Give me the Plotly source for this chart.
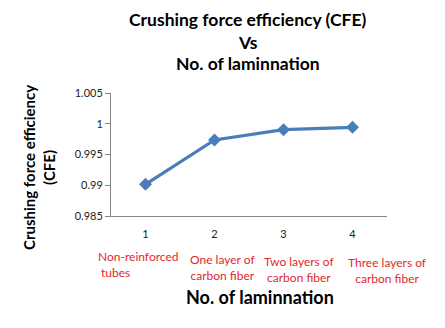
import plotly.graph_objects as go

categories = ["1", "2", "3", "4"]
cfe_values = [0.99015, 0.99736, 0.99903, 0.99942]
group_labels = ["Non-reinforced<br>&nbsp;tubes", "One layer of<br>carbon fiber",
                "Two layers of<br>carbon fiber", "Three layers of<br>carbon fiber"]
title_lines = ["Crushing force efficiency (CFE)", "Vs", "No. of laminnation"]
x_title = "No. of laminnation"
y_title = "Crushing force efficiency<br>(CFE)"
y_ticks = [0.985, 0.99, 0.995, 1.0, 1.005]
y_ticktext = ["0.985", "0.99", "0.995", "1", "1.005"]

# label placement (styling)
label_xshift = [-7, 8, 16, 35]
label_yshift = [-31, -34, -36, -37]
label_align = ["left", "center", "center", "center"]

FONT = "Lato, Open Sans, sans-serif"

L, R, T, B = 111, 58, 93, 112
W, H = 445, 328
PW, PH = W - L - R, H - T - B


def px(xp):
    return (xp - L) / PW


def py(yp):
    return (H - B - yp) / PH


fig = go.Figure()
fig.add_trace(go.Scatter(
    x=categories, y=cfe_values, mode="lines+markers",
    line=dict(color="#4A7EBB", width=3.2),
    marker=dict(symbol="diamond", size=10, color="#4A7EBB"),
    showlegend=False, cliponaxis=False,
))

for i, lab in enumerate(group_labels):
    fig.add_annotation(x=i, y=0, xref="x", yref="paper", text=lab,
                       showarrow=False, yanchor="top",
                       xshift=label_xshift[i], yshift=label_yshift[i],
                       font=dict(family=FONT, size=12, color="#E0282E"),
                       align=label_align[i])

for yc, line in zip([19, 42, 64], title_lines):
    fig.add_annotation(x=px(248), y=py(yc), xref="paper", yref="paper",
                       text=f"<b>{line}</b>", showarrow=False,
                       xanchor="center", yanchor="middle",
                       font=dict(family=FONT, size=17.5, color="black"))

fig.add_annotation(x=px(260), y=py(297), xref="paper", yref="paper",
                   text=f"<b>{x_title}</b>", showarrow=False,
                   xanchor="center", yanchor="middle",
                   font=dict(family=FONT, size=18, color="black"))

fig.add_annotation(x=px(39), y=py(168), xref="paper", yref="paper",
                   text=f"<b>{y_title}</b>", showarrow=False, textangle=-90,
                   xanchor="center", yanchor="middle",
                   font=dict(family=FONT, size=15, color="black"))

fig.update_layout(
    width=W, height=H,
    margin=dict(l=L, r=R, t=T, b=B),
    paper_bgcolor="white", plot_bgcolor="white",
    xaxis=dict(type="category", range=[-0.5, len(categories) - 0.5],
               showline=True, linecolor="#868686", linewidth=1,
               ticks="", showgrid=False, tickfont=dict(family=FONT, size=11, color="#222"),
               ticklabelstandoff=8),
    yaxis=dict(range=[0.985, 1.005], tickvals=y_ticks, ticktext=y_ticktext,
               showline=True, linecolor="#868686", linewidth=1,
               ticks="outside", ticklen=5, tickcolor="#868686", showgrid=False,
               tickfont=dict(family=FONT, size=11, color="#222")),
)

fig.write_html("out.html")
